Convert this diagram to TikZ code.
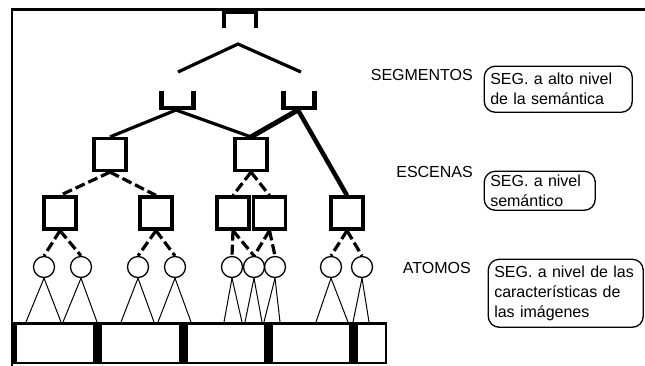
\documentclass[tikz,border=0pt]{standalone}
\usepackage{fontspec}
\setmainfont{Liberation Sans}
\begin{document}
\begin{tikzpicture}[x=1pt,y=-1pt,
  sq/.style={draw,line width=3.2pt,minimum size=32pt,inner sep=0pt},
  atom/.style={draw,circle,line width=1.3pt,minimum size=21pt,inner sep=0pt},
  solidc/.style={line width=3.2pt},
  dashc/.style={line width=3.2pt,dash pattern=on 10pt off 4pt},
  thinc/.style={line width=1pt},
  brk/.style={line width=4.5pt},
  lvl/.style={font=\fontsize{16}{18}\selectfont,inner sep=0pt},
  desc/.style={draw,rounded corners=11pt,line width=1.3pt,align=left,
    font=\fontsize{16}{20}\selectfont,inner xsep=6pt,inner ysep=0pt,anchor=north west}
]
\useasboundingbox (0,0) rectangle (645,365);
% frame
\draw[line width=2.5pt] (12,366) -- (12,9.5) -- (646,9.5);
% top bracket and inverted V
\draw[brk] (224,28) -- (224,12) -- (256,12) -- (256,28);
\coordinate (apex) at (238,44);
\coordinate (vl) at (178,72);
\coordinate (vr) at (301,72);
\draw[solidc] (vl) -- (apex) -- (vr);
% lower brackets
\draw[brk] (161.5,91) -- (161.5,108) -- (193.5,108) -- (193.5,91);
\draw[brk] (283.5,91) -- (283.5,108) -- (314.5,108) -- (314.5,91);
\coordinate (su1) at (176,110);
\coordinate (su2) at (298,110);
% scene boxes
\node[sq] (A) at (110,154.5) {};
\node[sq] (B) at (251,154.5) {};
\node[sq] (C1) at (60,213) {};
\node[sq] (C2) at (156,213) {};
\node[sq] (C3) at (233,213) {};
\node[sq] (C4) at (269.5,213) {};
\node[sq] (C5) at (347,213) {};
% segment connectors
\draw[solidc] (su1) -- (A.north);
\draw[solidc] (su1) -- (B.north);
\draw[line width=5pt] (su2) -- (B.north);
\draw[line width=4.5pt] (su2) -- (C5.north);
% scene connectors
\draw[dashc] (A.south) -- (C1.north);
\draw[dashc] (A.south) -- (C2.north);
\draw[dashc] (B.south) -- (C3.north);
\draw[dashc] (B.south) -- (C4.north);
% bottom bar
\draw[line width=2.5pt] (13.25,323.25) rectangle (385.75,362.75);
\fill (12,322) rectangle (17,364);
\fill (93,322) rectangle (102,364);
\fill (179,322) rectangle (188,364);
\fill (264,322) rectangle (273,364);
\fill (349,322) rectangle (358,364);
% atoms
\foreach \i/\x/\l/\r in {1/44/26/61, 2/81/63/97, 3/138/121/154, 4/175/158/191,
  5/232/224/242, 6/254/245/262, 7/275/264/280, 8/331/316/348, 9/362/353/369} {
  \node[atom] (c\i) at (\x,267) {};
  \coordinate (l\i) at (\l,322);
  \coordinate (r\i) at (\r,322);
  \draw[thinc] (c\i.south) -- (l\i);
  \draw[thinc] (c\i.south) -- (r\i);
}
\draw[dashc] (C1.south) -- (c1.north);
\draw[dashc] (C1.south) -- (c2.north);
\draw[dashc] (C2.south) -- (c3.north);
\draw[dashc] (C2.south) -- (c4.north);
\draw[dashc] (C3.south) -- (c5.north);
\draw[dashc] (C3.south) -- (c6.north);
\draw[dashc] (C4.south) -- (c6.north);
\draw[dashc] (C4.south) -- (c7.north);
\draw[dashc] (C5.south) -- (c8.north);
\draw[dashc] (C5.south) -- (c9.north);
% labels
\node[lvl,anchor=east] (lseg) at (473,75) {SEGMENTOS};
\node[lvl,anchor=east] (lesc) at (473,172) {ESCENAS};
\node[lvl,anchor=east] (lato) at (471,268) {ATOMOS};
\node[desc,minimum width=148pt,text width=136pt,minimum height=46pt] (dseg) at (483.6,65.6)
  {SEG. a alto nivel\\de la semántica};
\node[desc,minimum width=111pt,text width=99pt,minimum height=39pt] (desc) at (483.6,170.6)
  {SEG. a nivel\\semántico};
\node[desc,minimum width=155pt,text width=143pt,minimum height=68pt] (dato) at (487.6,258.6)
  {SEG. a nivel de las\\características de\\las imágenes};
\end{tikzpicture}
\end{document}
